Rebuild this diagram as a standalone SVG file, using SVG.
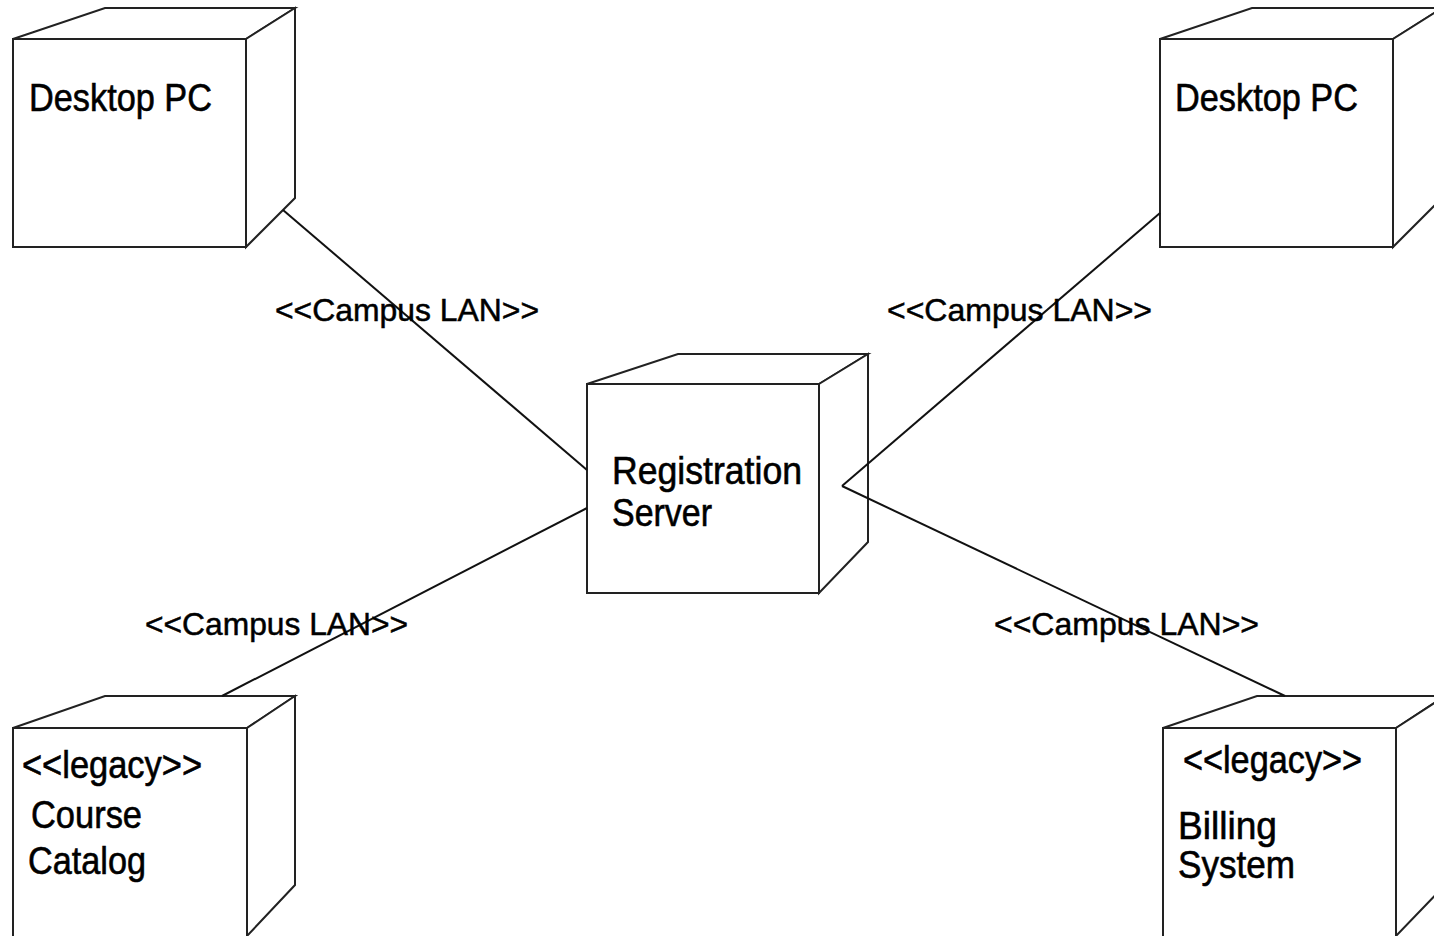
<svg xmlns="http://www.w3.org/2000/svg" width="1434" height="936" viewBox="0 0 1434 936">
  <style>
    .box { fill: #ffffff; stroke: #222222; stroke-width: 2; stroke-linejoin: miter; }
    .edge { fill: none; stroke: #111111; stroke-width: 2; }
    .name { font-family: "Liberation Sans Narrow", "Liberation Sans", Arial, sans-serif; font-size: 38px; fill: #000000; stroke: #000000; stroke-width: 0.6px; }
    .lbl { font-family: "Liberation Sans Narrow", "Liberation Sans", Arial, sans-serif; font-size: 32px; fill: #000000; stroke: #000000; stroke-width: 0.5px; }
  </style>
  <rect width="1434" height="936" fill="#ffffff"/>

  <!-- Deployment nodes drawn as 3D boxes: top face, right face, front face -->
  <g id="node-desktop-left">
    <polygon class="box" points="13,39 105,8 295,8 246,39"/>
    <polygon class="box" points="246,39 295,8 295,198 246,247"/>
    <rect class="box" x="13" y="39" width="233" height="208"/>
    <text class="name" x="29" y="111" textLength="183" lengthAdjust="spacingAndGlyphs">Desktop PC</text>
  </g>

  <g id="node-desktop-right">
    <polygon class="box" points="1160,39 1252,8 1442,8 1393,39"/>
    <polygon class="box" points="1393,39 1442,8 1442,198 1393,247"/>
    <rect class="box" x="1160" y="39" width="233" height="208"/>
    <text class="name" x="1175" y="111" textLength="183" lengthAdjust="spacingAndGlyphs">Desktop PC</text>
  </g>

  <g id="node-registration-server">
    <polygon class="box" points="587,384 678,354 868,354 819,384"/>
    <polygon class="box" points="819,384 868,354 868,542 819,593"/>
    <rect class="box" x="587" y="384" width="232" height="209"/>
    <text class="name" x="612" y="484" textLength="190" lengthAdjust="spacingAndGlyphs">Registration</text>
    <text class="name" x="612" y="526" textLength="100" lengthAdjust="spacingAndGlyphs">Server</text>
  </g>

  <g id="node-course-catalog">
    <polygon class="box" points="13,728 105,696 295,696 247,728"/>
    <polygon class="box" points="247,728 295,696 295,885 247,936"/>
    <rect class="box" x="13" y="728" width="234" height="212"/>
    <text class="name" x="22" y="778" textLength="180" lengthAdjust="spacingAndGlyphs">&lt;&lt;legacy&gt;&gt;</text>
    <text class="name" x="31" y="828" textLength="111" lengthAdjust="spacingAndGlyphs">Course</text>
    <text class="name" x="28" y="874" textLength="118" lengthAdjust="spacingAndGlyphs">Catalog</text>
  </g>

  <g id="node-billing-system">
    <polygon class="box" points="1163,728 1257,696 1445,696 1396,728"/>
    <polygon class="box" points="1396,728 1445,696 1445,885 1396,936"/>
    <rect class="box" x="1163" y="728" width="233" height="212"/>
    <text class="name" x="1183" y="773" textLength="179" lengthAdjust="spacingAndGlyphs">&lt;&lt;legacy&gt;&gt;</text>
    <text class="name" x="1178" y="839" textLength="99" lengthAdjust="spacingAndGlyphs">Billing</text>
    <text class="name" x="1178" y="878" textLength="117" lengthAdjust="spacingAndGlyphs">System</text>
  </g>

  <!-- Communication links -->
  <g id="connectors">
    <line class="edge" x1="283" y1="210" x2="587" y2="470"/>
    <line class="edge" x1="1160" y1="213" x2="842" y2="486"/>
    <line class="edge" x1="587" y1="508" x2="222" y2="696"/>
    <line class="edge" x1="842" y1="486" x2="1285" y2="696"/>
  </g>

  <!-- Link stereotypes -->
  <g id="link-labels">
    <text class="lbl" x="275" y="321" textLength="264" lengthAdjust="spacingAndGlyphs">&lt;&lt;Campus LAN&gt;&gt;</text>
    <text class="lbl" x="887" y="321" textLength="265" lengthAdjust="spacingAndGlyphs">&lt;&lt;Campus LAN&gt;&gt;</text>
    <text class="lbl" x="145" y="635" textLength="263" lengthAdjust="spacingAndGlyphs">&lt;&lt;Campus LAN&gt;&gt;</text>
    <text class="lbl" x="994" y="635" textLength="265" lengthAdjust="spacingAndGlyphs">&lt;&lt;Campus LAN&gt;&gt;</text>
  </g>
</svg>
